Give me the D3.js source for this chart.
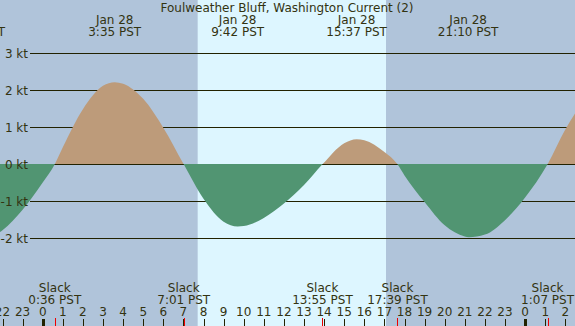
<!DOCTYPE html>
<html>
<head>
<meta charset="utf-8">
<script src="https://cdn.jsdelivr.net/npm/d3@7"></script>
<style>
  body { margin: 0; }
  svg { display: block; font-family: "DejaVu Sans", sans-serif; font-size: 12px; }
</style>
</head>
<body>
<svg width="575" height="326"></svg>
<script>
// hours after midnight Jan 28 (PST) and current speed in knots
const hours = [-3.38, -3, -2, -1, 0, 0.6, 1, 2, 3, 3.583, 4, 5, 6, 7.017, 8, 9, 9.7, 10, 11, 12, 13, 13.917,
               15, 15.617, 16, 17, 17.65, 18, 19, 20, 21, 21.2, 22, 23, 24, 25.117, 26, 27];
const knots = [-2.08, -2.06, -1.78, -1.23, -0.49, 0, 0.46, 1.49, 2.12, 2.22, 2.18, 1.77, 0.99, 0, -0.93, -1.55, -1.68, -1.67, -1.45, -1.06, -0.56, 0,
               0.57, 0.68, 0.65, 0.33, 0, -0.30, -1.02, -1.65, -1.95, -1.97, -1.90, -1.51, -0.90, 0, 0.94, 1.80];

// max flood / max ebb labels on top
const peakHours = [-3.38, 3.583, 9.7, 15.617, 21.167];
const peakDates = ["Jan 27", "Jan 28", "Jan 28", "Jan 28", "Jan 28"];
const peakTimes = ["20:37 PST", "3:35 PST", "9:42 PST", "15:37 PST", "21:10 PST"];

// slack water labels at the bottom
const slackHours = [0.6, 7.017, 13.917, 17.65, 25.117];
const slackTimes = ["0:36 PST", "7:01 PST", "13:55 PST", "17:39 PST", "1:07 PST"];

const sunrise = 7.71, sunset = 17.08;
const kt = [3, 2, 1, 0, -1, -2];
const hourTicks = d3.range(-2, 27);

const W = 575, H = 326;
const svg = d3.select("svg");

const x = d3.scaleLinear().domain([0, 24]).range([42.7, 525.1]);
const y = d3.scaleLinear().domain([-2, 3]).range([238.3, 53.3]);
const y0 = Math.round(y(0));

// night / day background
svg.append("rect").attr("width", W).attr("height", H).attr("fill", "#b0c4da");
svg.append("rect")
    .attr("x", x(sunrise)).attr("y", 0)
    .attr("width", x(sunset) - x(sunrise)).attr("height", H)
    .attr("fill", "#ddf6ff");

// grid lines
svg.selectAll(".grid")
    .data(kt)
    .enter()
    .append("line")
    .attr("x1", 30).attr("x2", W)
    .attr("y1", d => Math.round(y(d)) + 0.5)
    .attr("y2", d => Math.round(y(d)) + 0.5)
    .attr("stroke", "#222200").attr("stroke-width", 1);

// current curve, flood above zero, ebb below
const pts = hours.map((h, i) => [h, knots[i]]);
const area = d3.area()
    .x(d => x(d[0]))
    .y0(y0)
    .y1(d => y(d[1]))
    .curve(d3.curveMonotoneX);

const defs = svg.append("defs");
defs.append("clipPath").attr("id", "above")
    .append("rect").attr("x", 0).attr("y", 0).attr("width", W).attr("height", y0);
defs.append("clipPath").attr("id", "below")
    .append("rect").attr("x", 0).attr("y", y0).attr("width", W).attr("height", H - y0);

svg.append("path").datum(pts)
    .attr("d", area)
    .attr("fill", "#bd9b7a")
    .attr("clip-path", "url(#above)");
svg.append("path").datum(pts)
    .attr("d", area)
    .attr("fill", "#519572")
    .attr("clip-path", "url(#below)");

// kt labels sit on top of the fills
svg.selectAll(".ktlab")
    .data(kt)
    .enter()
    .append("text")
    .attr("x", 28)
    .attr("y", d => y(d) + 4.5)
    .attr("text-anchor", "end")
    .attr("fill", "#333311")
    .text(d => d + " kt");

// title
svg.append("text")
    .attr("x", 287).attr("y", 12)
    .attr("text-anchor", "middle")
    .attr("fill", "#333311")
    .text("Foulweather Bluff, Washington Current (2)");

// peak labels
const peakLab = svg.selectAll(".peak")
    .data(peakHours)
    .enter()
    .append("text")
    .attr("text-anchor", "middle")
    .attr("fill", "#333311");
peakLab.append("tspan").attr("x", d => x(d)).attr("y", 24).text((d, i) => peakDates[i]);
peakLab.append("tspan").attr("x", d => x(d)).attr("y", 35.5).text((d, i) => peakTimes[i]);

// slack labels
const slackLab = svg.selectAll(".slack")
    .data(slackHours)
    .enter()
    .append("text")
    .attr("text-anchor", "middle")
    .attr("fill", "#333311");
slackLab.append("tspan").attr("x", d => x(d)).attr("y", 292).text("Slack");
slackLab.append("tspan").attr("x", d => x(d)).attr("y", 304).text((d, i) => slackTimes[i]);

// hour ticks
svg.selectAll(".hlab")
    .data(hourTicks)
    .enter()
    .append("text")
    .attr("x", d => x(d))
    .attr("y", 316)
    .attr("text-anchor", "middle")
    .attr("fill", "#333311")
    .text(d => ((d % 24) + 24) % 24);

svg.selectAll(".htick")
    .data(hourTicks)
    .enter()
    .append("line")
    .attr("x1", d => Math.round(x(d)) + 0.5)
    .attr("x2", d => Math.round(x(d)) + 0.5)
    .attr("y1", 319).attr("y2", H)
    .attr("stroke", "#222200")
    .attr("stroke-width", d => d % 24 === 0 ? 3 : 1);

svg.selectAll(".stick")
    .data(slackHours)
    .enter()
    .append("line")
    .attr("x1", d => Math.round(x(d)) + 0.5)
    .attr("x2", d => Math.round(x(d)) + 0.5)
    .attr("y1", 318).attr("y2", H)
    .attr("stroke", "#ee0000")
    .attr("stroke-width", 1);
</script>
</body>
</html>
